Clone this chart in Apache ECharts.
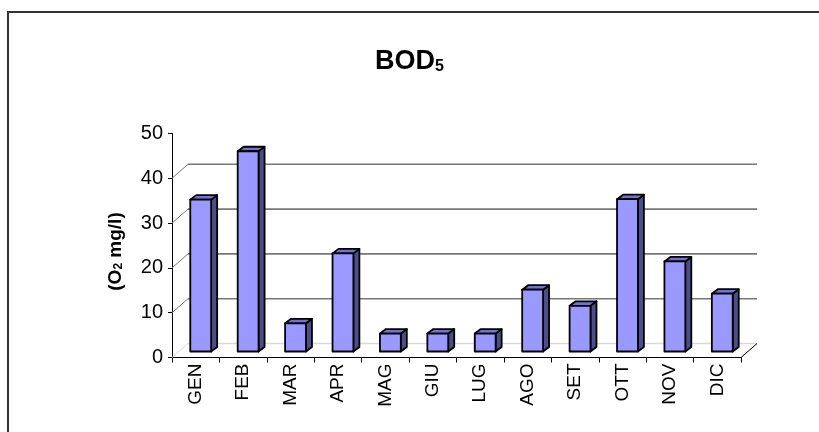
<!DOCTYPE html>
<html>
<head>
<meta charset="utf-8">
<script src="https://cdn.jsdelivr.net/npm/echarts@6/dist/echarts.min.js"></script>
<style>
  html, body { margin: 0; padding: 0; background: #fff; }
  #chart { width: 819px; height: 432px; }
</style>
</head>
<body>
<div id="chart"></div>
<script>
// mesi e valori BOD5 (O2 mg/l)
var months = ['GEN', 'FEB', 'MAR', 'APR', 'MAG', 'GIU', 'LUG', 'AGO', 'SET', 'OTT', 'NOV', 'DIC'];
var bodValues = [33.9, 44.7, 6.3, 21.9, 4.0, 4.0, 4.0, 13.8, 10.2, 34.0, 20.1, 12.9];
var yTicks = [0, 10, 20, 30, 40];

// oblique 3D offsets (px)
var WALL_DX = 16, WALL_DY = -14;
var BAR_DX = 5, BAR_DY = -6;
var DEPTH_DX = 6, DEPTH_DY = -4.5;

var chart = echarts.init(document.getElementById('chart'));

function renderWall(params, api) {
  var cs = params.coordSys;
  var v = api.value(0);
  var y = api.coord([0, v])[1];
  var x0 = cs.x, x1 = cs.x + cs.width;
  var col = v === 0 ? '#d9d9d9' : '#777';
  var children = [
    { type: 'line', shape: { x1: x0, y1: y, x2: x0 + WALL_DX, y2: y + WALL_DY }, style: { stroke: col, lineWidth: 1 } },
    { type: 'line', shape: { x1: x0 + WALL_DX, y1: y + WALL_DY, x2: x1 + WALL_DX, y2: y + WALL_DY }, style: { stroke: col, lineWidth: 1.6 } }
  ];
  if (v === 0) {
    children.push({ type: 'line', shape: { x1: x1, y1: y, x2: x1 + WALL_DX, y2: y + WALL_DY }, style: { stroke: '#000', lineWidth: 1 } });
  }
  return { type: 'group', children: children };
}

function renderBar(params, api) {
  var i = api.value(0);
  var top = api.coord([i, api.value(1)]);
  var base = api.coord([i, 0]);
  var w = api.size([1, 0])[0] * 0.44;
  var l = top[0] - w / 2 + BAR_DX;
  var t = top[1] + BAR_DY;
  var b = base[1] + BAR_DY;
  var r = l + w;
  var stroke = { stroke: '#000', lineWidth: 1.8, lineJoin: 'round' };
  return {
    type: 'group',
    children: [
      { type: 'polygon', shape: { points: [[r, t], [r + DEPTH_DX, t + DEPTH_DY], [r + DEPTH_DX, b + DEPTH_DY], [r, b]] },
        style: Object.assign({ fill: '#4d4d8c' }, stroke) },
      { type: 'polygon', shape: { points: [[l, t], [l + DEPTH_DX, t + DEPTH_DY], [r + DEPTH_DX, t + DEPTH_DY], [r, t]] },
        style: Object.assign({ fill: '#7373c9' }, stroke) },
      { type: 'rect', shape: { x: l, y: t, width: w, height: b - t },
        style: Object.assign({ fill: '#9999ff' }, stroke) }
    ]
  };
}

var option = {
  backgroundColor: '#fff',
  animation: false,
  textStyle: { fontFamily: 'Liberation Sans, Arial, sans-serif' },
  graphic: [{
    type: 'rect',
    shape: { x: 8, y: 12, width: 900, height: 500 },
    style: { fill: 'none', stroke: '#333', lineWidth: 2 },
    silent: true
  }],
  title: {
    text: '{b|BOD}{s|5}',
    left: 'center',
    top: 43,
    textStyle: {
      rich: {
        b: { fontSize: 27, fontWeight: 'bold', color: '#000', lineHeight: 27, fontFamily: 'Liberation Sans' },
        s: { fontSize: 16, fontWeight: 'bold', color: '#000', lineHeight: 9, verticalAlign: 'bottom', fontFamily: 'Liberation Sans' }
      }
    }
  },
  grid: { left: 172, top: 133.5, width: 569, height: 224 },
  xAxis: {
    type: 'category',
    data: months,
    boundaryGap: true,
    axisLine: { lineStyle: { color: '#000', width: 1 } },
    axisTick: { show: true, length: 5, lineStyle: { color: '#000' } },
    axisLabel: { rotate: 90, fontSize: 19, color: '#000', margin: 6, fontFamily: 'Liberation Sans' },
    splitLine: { show: false }
  },
  yAxis: {
    type: 'value',
    min: 0,
    max: 50,
    interval: 10,
    name: '(O{s|2} mg/l)',
    nameLocation: 'middle',
    nameRotate: 90,
    nameGap: 47,
    nameTextStyle: {
      fontSize: 19, fontWeight: 'bold', color: '#000', fontFamily: 'Liberation Sans',
      padding: [0, 12, 0, 0],
      rich: {
        s: { fontSize: 12, fontWeight: 'bold', color: '#000', lineHeight: 6, verticalAlign: 'bottom', fontFamily: 'Liberation Sans' }
      }
    },
    axisLine: { show: true, lineStyle: { color: '#000', width: 1 } },
    axisTick: { show: true, length: 4, lineStyle: { color: '#000' } },
    axisLabel: { fontSize: 20, color: '#000', margin: 9, fontFamily: 'Liberation Sans' },
    splitLine: { show: false }
  },
  series: [{
    name: 'wall',
    type: 'custom',
    z: 1,
    silent: true,
    renderItem: renderWall,
    data: yTicks.map(function (v) { return [v]; }),
    encode: { y: 0 }
  }, {
    name: 'BOD5',
    type: 'custom',
    z: 3,
    renderItem: renderBar,
    data: bodValues.map(function (v, i) { return [i, v]; }),
    encode: { x: 0, y: 1 }
  }]
};
chart.setOption(option);
</script>
</body>
</html>
